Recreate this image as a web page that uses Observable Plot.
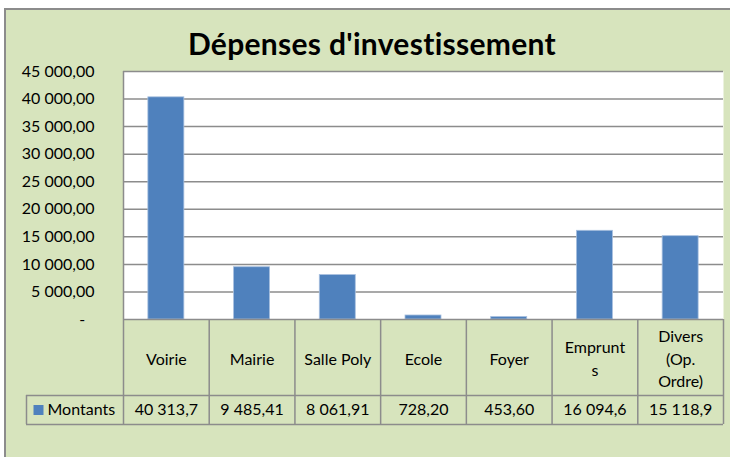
<!DOCTYPE html>
<html>
<head>
<meta charset="utf-8">
<script src="https://cdn.jsdelivr.net/npm/d3@7"></script>
<script src="https://cdn.jsdelivr.net/npm/@observablehq/plot@0.6"></script>
<style>
  html, body { margin: 0; padding: 0; background: #ffffff; }
  #wrap { position: relative; width: 730px; height: 457px; overflow: hidden; background: #ffffff; font-family: Lato, "Open Sans", sans-serif; }
  #panel { position: absolute; left: 4px; top: 8px; width: 740px; height: 470px; background: #d7e4bd;
           border-left: 2px solid #8c8c8c; border-top: 2px solid #8c8c8c; }
  #title { position: absolute; left: 0; top: 28px; width: 744px; text-align: center; font-weight: bold;
           font-size: 30px; line-height: 30px; letter-spacing: 0.3px; color: #000; }
  #chart { position: absolute; left: 6px; top: 10px; }
</style>
</head>
<body>
<div id="wrap">
  <div id="panel"></div>
  <div id="title">Dépenses d'investissement</div>
  <div id="chart"></div>
</div>
<script>
const categories = ["Voirie", "Mairie", "Salle Poly", "Ecole", "Foyer", "Emprunts", "Divers (Op. Ordre)"];
const headerLabels = ["Voirie", "Mairie", "Salle Poly", "Ecole", "Foyer", "Emprunt\ns", "Divers\n(Op.\nOrdre)"];
const montants = [40313.7, 9485.41, 8061.91, 728.20, 453.60, 16094.6, 15118.9];
const montantLabels = ["40 313,7", "9 485,41", "8 061,91", "728,20", "453,60", "16 094,6", "15 118,9"];
const seriesName = "Montants";
const yTicks = [0, 5000, 10000, 15000, 20000, 25000, 30000, 35000, 40000, 45000];
const yTickLabels = ["-\u2007", "5 000,00", "10 000,00", "15 000,00", "20 000,00", "25 000,00", "30 000,00", "35 000,00", "40 000,00", "45 000,00"];

const rows = categories.map((c, i) => ({cat: c, header: headerLabels[i], value: montants[i], label: montantLabels[i]}));

const W = 724, H = 447, mL = 117, mR = 7, mT = 61, mB = 138;
const frameH = H - mT - mB;
const step = (W - mL - mR) / categories.length;
const headerH = 76, rowH = 29, legendW = 97;
const grey = "#8c8c8c";
const blue = "#4f81bd";
const fs = 16;

const chart = Plot.plot({
  width: W, height: H,
  marginLeft: mL, marginRight: mR, marginTop: mT, marginBottom: mB,
  style: {background: "transparent", fontFamily: "Lato, 'Open Sans', sans-serif", fontSize: "16px", color: "#000", overflow: "visible"},
  x: {domain: categories, paddingInner: 0.58, paddingOuter: 0.29, round: false, axis: null},
  y: {domain: [0, 45000], axis: null},
  marks: [
    Plot.frame({fill: "white", stroke: null}),
    Plot.gridY(yTicks.filter(d => d > 0), {stroke: grey, strokeOpacity: 1, strokeWidth: 1.5}),
    Plot.barY(rows, {x: "cat", y: "value", fill: blue, stroke: "#a9c0df", strokeWidth: 0.8}),
    Plot.axisY(yTicks, {anchor: "left", label: null, tickSize: 0, tickPadding: 29, tickFormat: d => yTickLabels[yTicks.indexOf(d)], fontSize: fs, fill: "#000"}),
    // table grid
    Plot.ruleY([0], {stroke: grey, strokeWidth: 1.5}),
    Plot.ruleY([0], {dy: headerH, insetLeft: -legendW, stroke: grey, strokeWidth: 1.5}),
    Plot.ruleY([0], {dy: headerH + rowH, insetLeft: -legendW, stroke: grey, strokeWidth: 1.5}),
    Plot.ruleX([categories[0]], {dx: -step / 2, insetBottom: -(headerH + rowH), stroke: grey, strokeWidth: 1.5}),
    Plot.ruleX(categories.slice(1), {dx: -step / 2, insetTop: frameH, insetBottom: -(headerH + rowH), stroke: grey, strokeWidth: 1.5}),
    Plot.ruleX([categories[categories.length - 1]], {dx: step / 2, insetTop: frameH, insetBottom: -(headerH + rowH), stroke: grey, strokeWidth: 1.5}),
    Plot.ruleX([categories[0]], {dx: -step / 2 - legendW, insetTop: frameH + headerH, insetBottom: -(headerH + rowH), stroke: grey, strokeWidth: 1.5}),
    // table text
    Plot.text(rows, {x: "cat", text: "header", frameAnchor: "bottom", dy: headerH / 2, lineAnchor: "middle", lineHeight: 1.4, fontSize: fs, fill: "#000"}),
    Plot.text(rows, {x: "cat", text: "label", frameAnchor: "bottom", dy: headerH + rowH / 2, lineAnchor: "middle", fontSize: fs, fill: "#000"}),
    // legend cell
    Plot.dot([seriesName], {frameAnchor: "bottom-left", dx: -85, dy: headerH + rowH / 2, symbol: "square", r: 5.64, fill: blue, stroke: null}),
    Plot.text([seriesName], {frameAnchor: "bottom-left", text: d => d, dx: -76, dy: headerH + rowH / 2, textAnchor: "start", lineAnchor: "middle", fontSize: fs, fill: "#000"})
  ]
});
document.getElementById("chart").appendChild(chart);
</script>
</body>
</html>
